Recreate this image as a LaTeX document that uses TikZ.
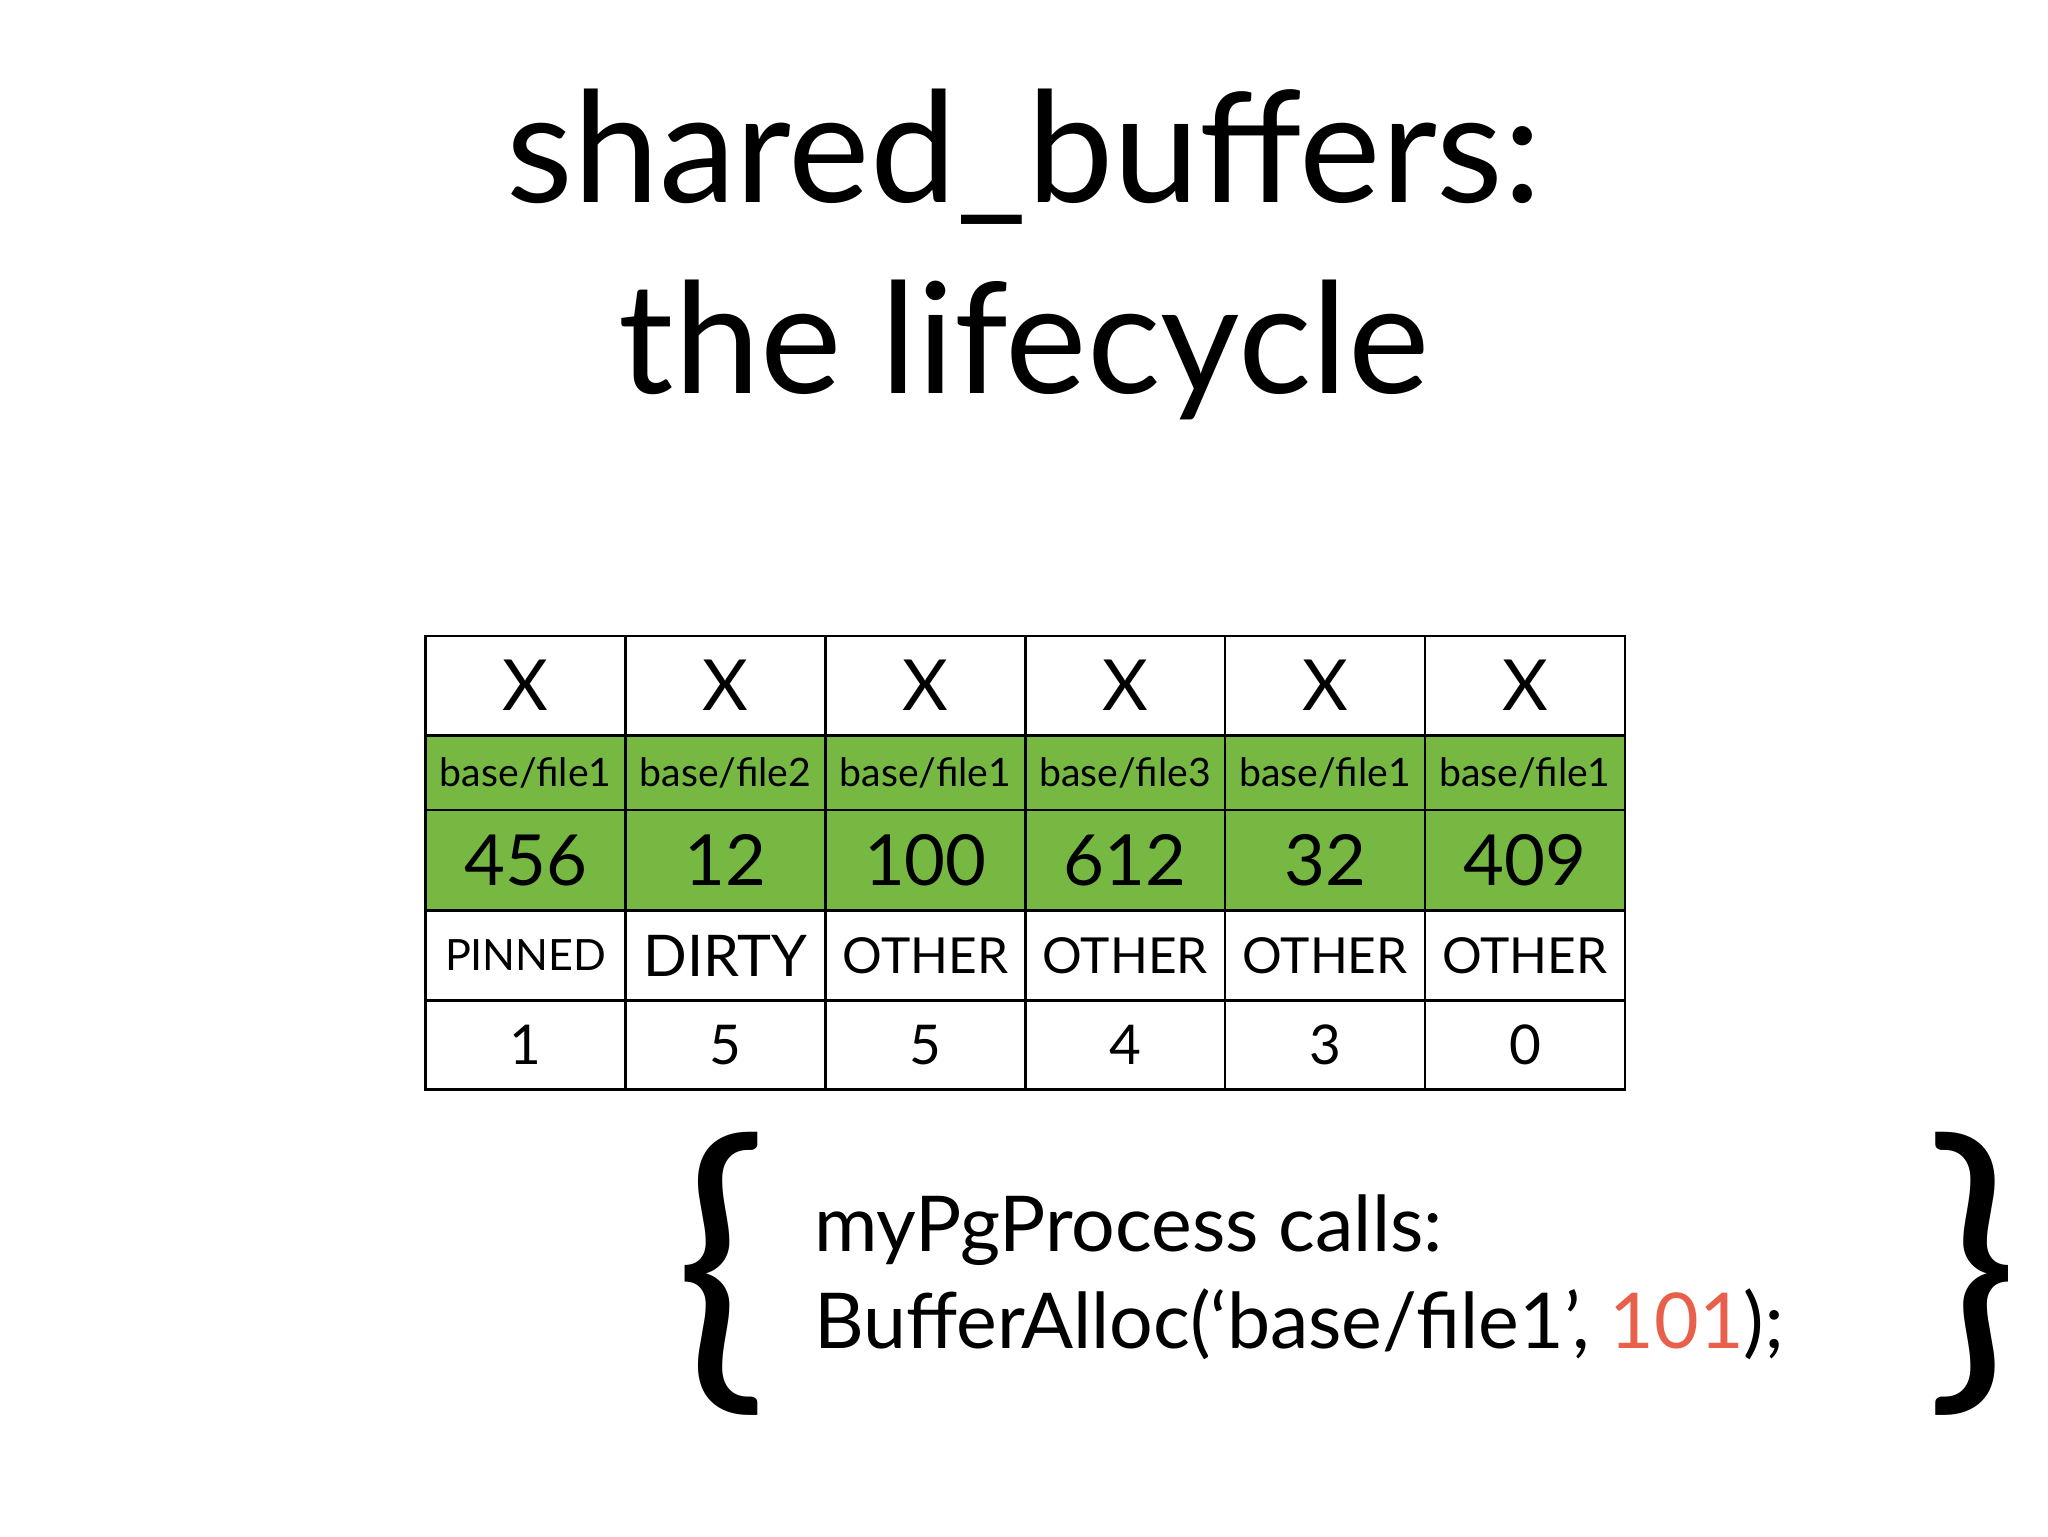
\documentclass[tikz,border=0pt]{standalone}
\usepackage{fontspec}
\setmainfont{Lato}
\definecolor{grn}{HTML}{77B843}
\definecolor{redn}{HTML}{E8604C}
\begin{document}
\begin{tikzpicture}[x=1pt,y=-1pt,
  cell/.style={draw=black,line width=2pt,minimum width=153pt,inner sep=0pt,anchor=north west},
  fs/.style={font=\fontsize{#1}{#1}\selectfont}]
\useasboundingbox (0,0) rectangle (1568,1176);
\node[fs=118] (t1) at (784,120) {shared\_buffers:};
\node[fs=118] (t2) at (784,268) {the lifecycle};
\foreach \i/\b/\d/\e/\f in {0/file1/456/PINNED/1, 1/file2/12/DIRTY/5, 2/file1/100/OTHER/5, 3/file3/612/OTHER/4, 4/file1/32/OTHER/3, 5/file1/409/OTHER/0}{
  \pgfmathsetmacro\x{325+153*\i}
  \node[cell,minimum height=76pt,fs=54] (x\i) at (\x,486) {X};
  \node[cell,fill=grn,minimum height=57pt,fs=30] (f\i) at (\x,562) {base/\b};
  \node[cell,fill=grn,minimum height=77pt,fs=54] (n\i) at (\x,619) {\d};
  \node[cell,minimum height=69pt,fs=38] (s\i) at (\x,696) {\ifnum\i=0 \fontsize{33}{33}\selectfont\fi\ifnum\i=1 \fontsize{44}{44}\selectfont\fi\e};
  \node[cell,minimum height=68pt,fs=42] (c\i) at (\x,765) {\f};
}
\node[fs=238] (lb) at (552,975) {\{};
\node[fs=238] (rb) at (1510,975) {\}};
\node[font=\fontsize{59}{74}\selectfont,anchor=west,align=left] (code) at (620,978) {myPgProcess calls:\\BufferAlloc(‘base/file1’, \textcolor{redn}{101});};
\end{tikzpicture}
\end{document}
